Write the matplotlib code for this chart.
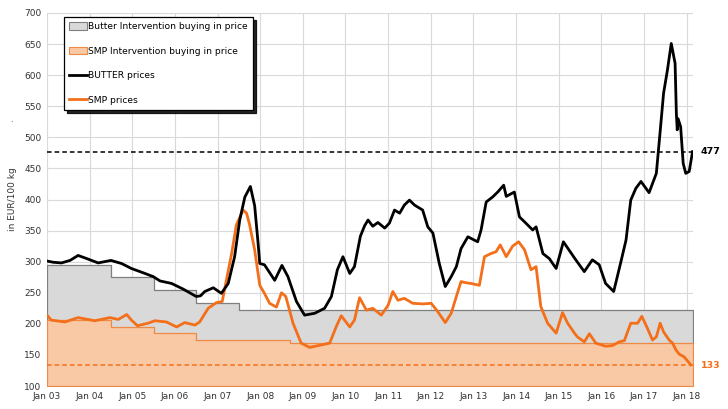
import matplotlib
matplotlib.use("Agg")
import matplotlib.pyplot as plt
from matplotlib.patches import Patch
from matplotlib.lines import Line2D
import numpy as np

# ---- data ----
butter_t = [2003.00, 2003.15, 2003.34, 2003.54, 2003.73, 2003.93, 2004.20, 2004.50, 2004.75, 2004.98,
            2005.26, 2005.49, 2005.65, 2005.92, 2006.19, 2006.50, 2006.60, 2006.70, 2006.90, 2007.09,
            2007.25, 2007.40, 2007.52, 2007.64, 2007.77, 2007.87, 2007.95, 2007.99, 2008.10, 2008.34,
            2008.51, 2008.65, 2008.85, 2009.04, 2009.28, 2009.51, 2009.67, 2009.81, 2009.94, 2010.10,
            2010.21, 2010.35, 2010.45, 2010.53, 2010.64, 2010.76, 2010.92, 2011.03, 2011.15, 2011.27,
            2011.38, 2011.50, 2011.62, 2011.81, 2011.93, 2012.05, 2012.20, 2012.34, 2012.48, 2012.60,
            2012.71, 2012.87, 2013.10, 2013.18, 2013.30, 2013.45, 2013.57, 2013.71, 2013.77, 2013.96,
            2014.08, 2014.20, 2014.39, 2014.47, 2014.63, 2014.78, 2014.94, 2015.11, 2015.25, 2015.40,
            2015.60, 2015.79, 2015.95, 2016.10, 2016.29, 2016.46, 2016.58, 2016.69, 2016.81, 2016.93,
            2017.12, 2017.29, 2017.37, 2017.46, 2017.55, 2017.64, 2017.73, 2017.76, 2017.78, 2017.80,
            2017.86, 2017.92, 2017.98, 2018.06, 2018.14]
butter_v = [301, 299, 298, 302, 310, 305, 298, 302, 297, 289,
            282, 276, 269, 265, 256, 244, 245, 252, 258, 249,
            265, 308, 367, 404, 421, 390, 330, 297, 295, 270,
            294, 276, 236, 214, 217, 225, 244, 287, 308, 281,
            292, 341, 358, 367, 357, 363, 354, 362, 383, 378,
            391, 399, 391, 383, 356, 346, 297, 260, 276, 292,
            321, 340, 332, 351, 396, 404, 412, 423, 405, 412,
            372, 364, 351, 356, 313, 305, 289, 332, 318, 303,
            284, 303, 295, 265, 252, 300, 335, 399, 418, 429,
            411, 442, 502, 571, 608, 651, 619, 538, 512, 530,
            517, 458, 442, 445, 477]

smp_t = [2003.00, 2003.10, 2003.42, 2003.73, 2004.12, 2004.48, 2004.67, 2004.87, 2004.98, 2005.12,
         2005.37, 2005.53, 2005.80, 2006.04, 2006.23, 2006.47, 2006.58, 2006.78, 2006.97, 2007.11,
         2007.20, 2007.33, 2007.44, 2007.60, 2007.68, 2007.75, 2007.87, 2007.99, 2008.10, 2008.22,
         2008.38, 2008.50, 2008.60, 2008.77, 2008.96, 2009.16, 2009.43, 2009.63, 2009.78, 2009.90,
         2010.10, 2010.21, 2010.33, 2010.49, 2010.64, 2010.84, 2011.00, 2011.11, 2011.23, 2011.38,
         2011.58, 2011.81, 2012.01, 2012.16, 2012.34, 2012.48, 2012.60, 2012.71, 2012.83, 2012.94,
         2013.14, 2013.26, 2013.41, 2013.53, 2013.63, 2013.77, 2013.92, 2014.06, 2014.20, 2014.35,
         2014.47, 2014.58, 2014.74, 2014.94, 2015.09, 2015.21, 2015.37, 2015.44, 2015.60, 2015.72,
         2015.87, 2016.10, 2016.26, 2016.42, 2016.54, 2016.69, 2016.85, 2016.95, 2017.08, 2017.20,
         2017.29, 2017.38, 2017.46, 2017.59, 2017.67, 2017.75, 2017.83, 2017.94, 2018.10]
smp_v = [214, 206, 203, 210, 205, 210, 207, 215, 206, 197,
         201, 205, 203, 195, 202, 198, 203, 225, 234, 236,
         268, 313, 359, 383, 378, 360, 319, 262, 249, 233,
         227, 250, 244, 201, 169, 162, 166, 169, 195, 213,
         195, 206, 242, 222, 225, 214, 230, 252, 238, 241,
         233, 232, 233, 220, 202, 217, 244, 268, 266, 265,
         262, 308, 313, 316, 327, 308, 325, 332, 319, 287,
         292, 228, 201, 185, 218, 201, 185, 179, 171, 184,
         169, 164, 165, 171, 173, 201, 201, 212, 193, 174,
         179, 201, 187, 174, 169, 158, 151, 147, 134]

butter_int_t = [2003.0, 2004.5, 2005.5, 2006.5, 2007.5, 2018.15]
butter_int_v = [295.38, 274.71, 254.19, 233.57, 221.75, 221.75]
smp_int_t = [2003.0, 2004.5, 2005.5, 2006.5, 2008.7, 2018.15]
smp_int_v = [205.52, 195.24, 184.97, 174.69, 169.80, 169.80]

butter_ref = 477
smp_ref = 133

years = list(range(2003, 2019))
year_labels = ["Jan %02d" % (y % 100) for y in years]

labels = ["Butter Intervention buying in price", "SMP Intervention buying in price",
          "BUTTER prices", "SMP prices"]

# ---- plot ----
ORANGE = "#f36f1a"
W, H = 728, 409
fig = plt.figure(figsize=(W / 100, H / 100), dpi=100)
ax = fig.add_axes([47 / W, (H - 386) / H, 646 / W, 373 / H])

ax.fill_between(butter_int_t, 100, butter_int_v, step="post", facecolor="#d9d9d9",
                edgecolor="#7f7f7f", linewidth=0.9, zorder=2)
ax.fill_between(smp_int_t, 100, smp_int_v, step="post", facecolor="#f8c9a4",
                edgecolor="#ee8a45", linewidth=0.9, zorder=3)

ax.axhline(butter_ref, color="black", linestyle=(0, (3, 2)), linewidth=1.1, zorder=4)
ax.axhline(smp_ref, color=ORANGE, linestyle=(0, (3, 2)), linewidth=1.1, zorder=4)

ax.plot(butter_t, butter_v, color="black", linewidth=2.0, zorder=6)
ax.plot(smp_t, smp_v, color=ORANGE, linewidth=2.0, zorder=5)

ax.set_xlim(2003.0, 2018.15)
ax.set_ylim(100, 700)
ax.set_yticks(np.arange(100, 701, 50))
ax.set_xticks(years)
ax.set_xticklabels(year_labels)
ax.tick_params(axis="both", labelsize=6.5, length=0, pad=4, colors="#333333")
ax.grid(True, color="#d9d9d9", linewidth=0.8)
ax.set_axisbelow(True)
for s in ax.spines.values():
    s.set_visible(False)

ax.set_ylabel("in EUR/100 kg", fontsize=6.5, color="#333333", labelpad=5)

ax.text(1.012, butter_ref, str(butter_ref), transform=ax.get_yaxis_transform(),
        fontsize=6.8, fontweight="bold", color="black", va="center", ha="left")
ax.text(1.012, smp_ref, str(smp_ref), transform=ax.get_yaxis_transform(),
        fontsize=6.8, fontweight="bold", color=ORANGE, va="center", ha="left")

fig.text(10 / W, 1 - 122 / H, ".", fontsize=6, color="#333333")

handles = [Patch(facecolor="#d9d9d9", edgecolor="#7f7f7f", linewidth=0.8),
           Patch(facecolor="#f8c9a4", edgecolor="#ee8a45", linewidth=0.8),
           Line2D([], [], color="black", linewidth=2),
           Line2D([], [], color=ORANGE, linewidth=2)]
leg = ax.legend(handles, labels, loc="upper left", bbox_to_anchor=(0.026, 0.99),
                fontsize=6.6, frameon=True, fancybox=False,
                shadow={"color": "black", "alpha": 0.85},
                edgecolor="black", framealpha=1, labelspacing=1.7,
                handlelength=1.9, handleheight=0.9, handletextpad=0.15,
                borderpad=0.6, borderaxespad=0)
leg.get_frame().set_linewidth(0.9)
leg.set_zorder(10)

fig.savefig("out.png", dpi=100)
